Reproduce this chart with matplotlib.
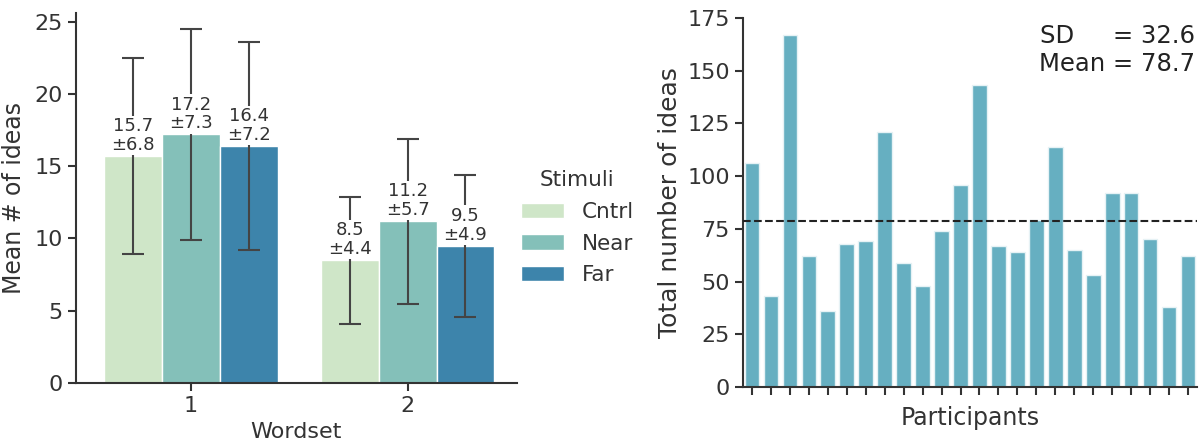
import numpy as np
import matplotlib
matplotlib.use("Agg")
import matplotlib.pyplot as plt

# left panel: mean ideas per wordset and stimulus
wordsets = ["1", "2"]
stimuli = ["Cntrl", "Near", "Far"]
means = {"Cntrl": [15.7, 8.5], "Near": [17.2, 11.2], "Far": [16.4, 9.5]}
sds = {"Cntrl": [6.8, 4.4], "Near": [7.3, 5.7], "Far": [7.2, 4.9]}
stim_colors = {"Cntrl": "#cfe6c8", "Near": "#84c0b9", "Far": "#3d84ab"}

# right panel: total ideas per participant
totals = [106, 43, 167, 62, 36, 68, 69, 121, 59, 48, 74, 96,
          143, 67, 64, 79, 114, 65, 53, 92, 92, 70, 38, 62]

plt.rcParams["font.family"] = "DejaVu Sans"
text_col = "#333333"

fig = plt.figure(figsize=(12.04, 4.44), dpi=100)
ax1 = fig.add_axes([0.0630, 0.1374, 0.3663, 0.8333])
ax2 = fig.add_axes([0.6171, 0.1284, 0.3771, 0.8311])

# ---- left: grouped bars with sd error bars
x = np.arange(len(wordsets))
w = 0.8 / len(stimuli)
for i, s in enumerate(stimuli):
    pos = x - 0.8 / 2 + w / 2 + i * w
    ax1.bar(pos, means[s], width=w, color=stim_colors[s], edgecolor="white",
            linewidth=1, label=s, zorder=2)
    ax1.errorbar(pos, means[s], yerr=sds[s], fmt="none", ecolor="#444444",
                 elinewidth=1.5, capsize=8, capthick=1.5, zorder=3)
    for p, m, sd in zip(pos, means[s], sds[s]):
        ax1.text(p, m + 0.15, f"{m}\n\u00b1{sd}", ha="center", va="bottom",
                 fontsize=13, color=text_col, linespacing=1.05, zorder=5,
                 bbox=dict(fc="white", ec="none", pad=1.0))

ax1.set_xlim(-0.53, 1.504)
ax1.set_ylim(0, 25.6)
ax1.set_xticks(x)
ax1.set_xticklabels(wordsets)
ax1.set_yticks([0, 5, 10, 15, 20, 25])
ax1.set_xlabel("Wordset", fontsize=16, color=text_col, labelpad=4)
ax1.set_ylabel("Mean # of ideas", fontsize=17, color=text_col, labelpad=6)
leg = ax1.legend(title="Stimuli", loc="center left", bbox_to_anchor=(1.0, 0.42),
                 frameon=False, fontsize=15.5, title_fontsize=15.5,
                 handlelength=2.0, handleheight=0.7, labelspacing=0.55,
                 borderaxespad=0.0, borderpad=0.2)
for t in leg.get_texts():
    t.set_color(text_col)
leg.get_title().set_color(text_col)

# ---- right: participant totals
px = np.arange(len(totals))
ax2.bar(px, totals, width=0.78, color="#66afc1", edgecolor="#e6f2f5",
        linewidth=1, zorder=2)
mean_total = np.mean(totals)
sd_total = np.std(totals, ddof=1)
ax2.axhline(mean_total, color="#222222", linestyle="--", linewidth=1.5, zorder=3)
ax2.text(0.995, 0.985, f"SD     = {sd_total:.1f}\nMean = {mean_total:.1f}",
         transform=ax2.transAxes, ha="right", va="top", fontsize=17.5,
         color="#222222", linespacing=1.25)
ax2.set_xlim(-0.48, len(totals) - 0.52)
ax2.set_ylim(0, 175)
ax2.set_xticks(px)
ax2.set_xticklabels([])
ax2.set_yticks([0, 25, 50, 75, 100, 125, 150, 175])
ax2.set_xlabel("Participants", fontsize=17, color=text_col, labelpad=4)
ax2.set_ylabel("Total number of ideas", fontsize=18, color=text_col)

for ax in (ax1, ax2):
    ax.spines["top"].set_visible(False)
    ax.spines["right"].set_visible(False)
    for sp in ("left", "bottom"):
        ax.spines[sp].set_linewidth(1.5)
        ax.spines[sp].set_color("#333333")
    ax.tick_params(labelsize=16, colors=text_col, length=6, width=1.5)

fig.savefig("out.png", dpi=100)
